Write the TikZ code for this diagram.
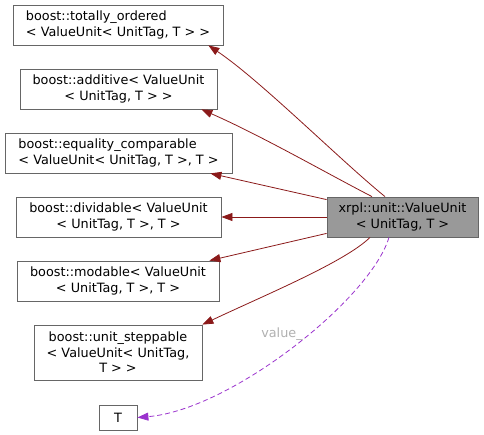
\documentclass[tikz,border=0pt]{standalone}
\usepackage{fontspec}
\setmainfont{DejaVu Sans}
\usetikzlibrary{arrows.meta}
\setlength\parindent{0pt}
\definecolor{edgered}{HTML}{8B1A1A}
\definecolor{edgepurple}{HTML}{9A32CD}
\definecolor{boxgray}{HTML}{999999}
\definecolor{bordergray}{HTML}{666666}
\definecolor{labelgray}{HTML}{B0B0B0}
\begin{document}
\begin{tikzpicture}[x=1pt,y=-1pt,
  cls/.style={draw=bordergray,line width=0.8pt,fill=white,inner sep=2pt,
    font=\fontsize{12.8}{15.5}\selectfont,minimum height=40pt},
  inh/.style={draw=edgered,line width=0.8pt,-{Triangle[length=11pt,width=8pt]}},
  usage/.style={draw=edgepurple,line width=0.8pt,dash pattern=on 5pt off 3pt,-{Triangle[length=11pt,width=8pt]}}]
\useasboundingbox (0,0) rectangle (484,435);
\node[cls,minimum width=210pt,align=left] (b1) at (118,25) {boost::totally\_ordered\\< ValueUnit< UnitTag, T > >};
\node[cls,minimum width=197pt,align=center] (b2) at (118.5,89) {boost::additive< ValueUnit\\< UnitTag, T > >};
\node[cls,minimum width=227pt,align=left] (b3) at (118.5,153) {boost::equality\_comparable\\< ValueUnit< UnitTag, T >, T >};
\node[cls,minimum width=205pt,align=center] (b4) at (118.5,217) {boost::dividable< ValueUnit\\< UnitTag, T >, T >};
\node[cls,minimum width=202pt,align=center] (b5) at (118,281) {boost::modable< ValueUnit\\< UnitTag, T >, T >};
\node[cls,minimum width=168pt,minimum height=55pt,align=center] (b6) at (118,352.5) {boost::unit\_steppable\\< ValueUnit< UnitTag,\\T > >};
\node[cls,minimum width=38pt,minimum height=25pt] (t) at (118,417.5) {T};
\node[cls,fill=boxgray,minimum width=151pt,align=center] (main) at (402.5,217) {xrpl::unit::ValueUnit\\< UnitTag, T >};

\draw[inh] ([xshift=-17.5pt]main.north) .. controls (340,160) and (260,80) .. ([xshift=-15pt]b1.south east);
\draw[inh] ([xshift=-30.5pt]main.north) .. controls (330,175) and (260,135) .. ([xshift=-16pt]b2.south east);
\draw[inh] ([yshift=-3pt]main.north west) -- ([xshift=-22pt]b3.south east);
\draw[inh] (main.west) -- (b4.east);
\draw[inh] ([yshift=4pt]main.south west) -- ([xshift=-10pt]b5.north east);
\draw[inh] ([xshift=-32.5pt]main.south) .. controls (345,262) and (265,295) .. (b6.north east);
\draw[usage] ([xshift=-13.5pt]main.south) .. controls (370,300) and (230,410) .. (t.east);
\node[text=labelgray,font=\fontsize{12.8}{15}\selectfont] (lbl) at (282,334) {value\_};
\end{tikzpicture}
\end{document}
